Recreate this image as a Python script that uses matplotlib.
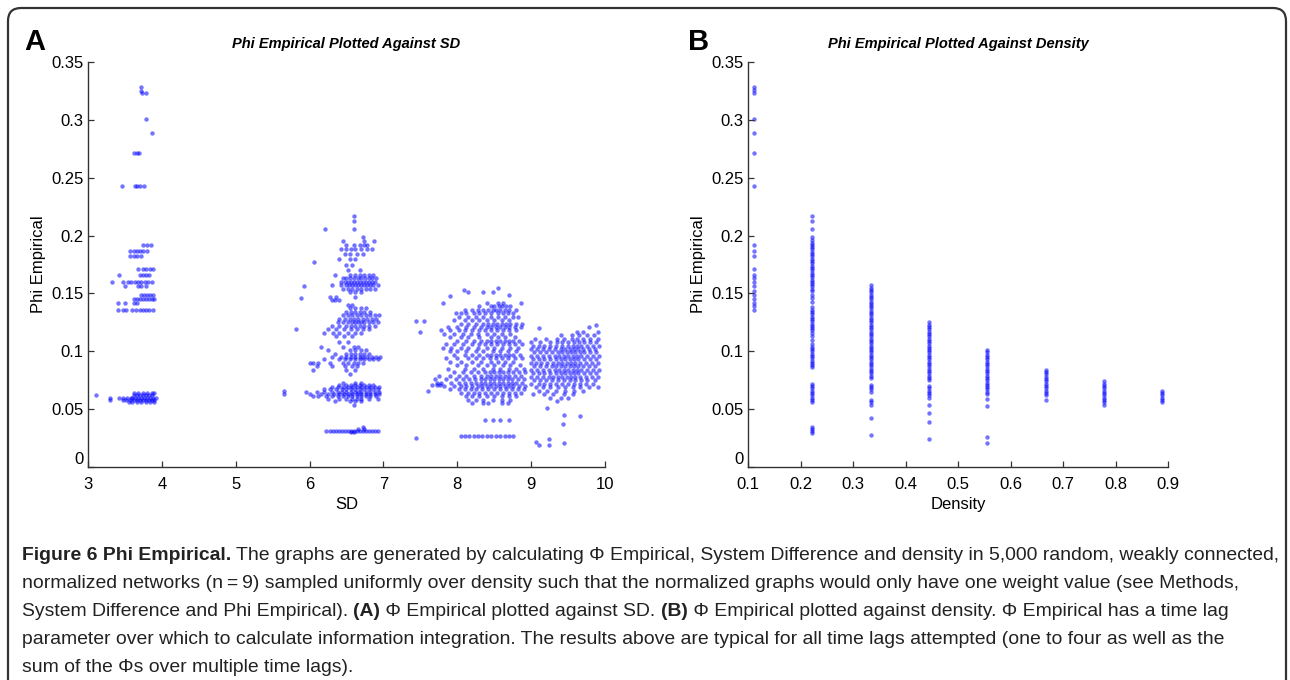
import numpy as np
import matplotlib
matplotlib.use('Agg')
import matplotlib.pyplot as plt
from matplotlib.patches import FancyBboxPatch

plt.rcParams['font.family'] = ['Liberation Sans Narrow', 'Liberation Sans', 'DejaVu Sans']

# ---------------- data ----------------
# panel A : rows of points, phi value -> list of SD values
sd_group1 = {
    0.328: [3.72], 0.325: [3.72], 0.323: [3.73, 3.78], 0.301: [3.79], 0.289: [3.87],
    0.271: [3.62, 3.66, 3.69], 0.243: [3.46, 3.64, 3.67, 3.70, 3.76],
    0.192: [3.75, 3.80, 3.85], 0.187: [3.57, 3.62, 3.66, 3.70, 3.75, 3.80],
    0.182: [3.57, 3.62, 3.67, 3.72], 0.171: [3.68, 3.74, 3.78, 3.84, 3.88],
    0.166: [3.42, 3.70, 3.75, 3.79, 3.83],
    0.160: [3.33, 3.48, 3.54, 3.58, 3.63, 3.68, 3.72, 3.77, 3.81, 3.86],
    0.156: [3.50, 3.68, 3.72, 3.78], 0.149: [3.72, 3.76, 3.80, 3.84, 3.88],
    0.145: [3.62, 3.66, 3.70, 3.74, 3.78, 3.82, 3.86, 3.90], 0.142: [3.40, 3.50, 3.62, 3.67],
    0.136: [3.40, 3.48, 3.52, 3.60, 3.65, 3.70, 3.74, 3.78, 3.83, 3.88],
    0.064: [3.62, 3.68, 3.74, 3.80, 3.86, 3.90],
    0.062: [3.11, 3.62, 3.66, 3.70, 3.74, 3.78, 3.82, 3.86],
    0.060: [3.30, 3.42, 3.48, 3.53, 3.58, 3.60, 3.64, 3.68, 3.72, 3.76, 3.80, 3.84, 3.88, 3.92],
    0.058: [3.30, 3.47, 3.52, 3.57, 3.62, 3.66, 3.70, 3.74, 3.78, 3.82, 3.86, 3.90],
    0.056: [3.55, 3.60, 3.66, 3.72, 3.78, 3.84, 3.90],
}

sd_group2 = {
    0.217: [6.60], 0.213: [6.60], 0.206: [6.21, 6.60], 0.199: [6.72],
    0.195: [6.45, 6.74, 6.87], 0.192: [6.50, 6.60, 6.68, 6.74, 6.78],
    0.188: [6.42, 6.50, 6.56, 6.62, 6.70, 6.78, 6.85], 0.184: [6.48, 6.55, 6.64, 6.72],
    0.180: [6.40, 6.55, 6.62], 0.177: [6.06], 0.175: [6.50, 6.58], 0.170: [6.52, 6.68],
    0.166: [6.34, 6.55, 6.62, 6.68, 6.74, 6.80, 6.86],
    0.163: [6.45, 6.50, 6.55, 6.60, 6.65, 6.70, 6.75, 6.80, 6.85, 6.90],
    0.160: [6.43, 6.48, 6.52, 6.56, 6.60, 6.64, 6.68, 6.72, 6.76, 6.80, 6.84, 6.88],
    0.157: [6.30, 6.42, 6.50, 6.54, 6.58, 6.62, 6.66, 6.70, 6.74, 6.78, 6.82, 6.86, 6.92],
    0.156: [5.93],
    0.154: [6.45, 6.52, 6.58, 6.64, 6.70, 6.76, 6.82, 6.88], 0.151: [6.55, 6.62, 6.70],
    0.147: [6.28, 6.36, 6.62], 0.146: [5.88], 0.144: [6.30, 6.34, 6.40], 0.140: [6.52, 6.58],
    0.137: [6.55, 6.62, 6.70, 6.76], 0.134: [6.50, 6.56, 6.62, 6.68, 6.74, 6.82],
    0.131: [6.45, 6.52, 6.58, 6.64, 6.70, 6.76, 6.82, 6.88, 6.94],
    0.128: [6.40, 6.48, 6.55, 6.60, 6.66, 6.72, 6.78, 6.84, 6.90],
    0.125: [6.38, 6.45, 6.52, 6.58, 6.62, 6.66, 6.70, 6.74, 6.80, 6.86, 6.92],
    0.122: [6.30, 6.40, 6.50, 6.56, 6.62, 6.68, 6.74, 6.80, 6.88],
    0.119: [5.82, 6.25, 6.36, 6.46, 6.56, 6.64, 6.72, 6.80],
    0.116: [6.20, 6.32, 6.40, 6.52, 6.62, 6.70], 0.113: [6.36, 6.46, 6.58], 0.108: [6.40, 6.52],
    0.104: [6.15, 6.45, 6.60, 6.66], 0.101: [6.25, 6.55, 6.62, 6.70, 6.76],
    0.098: [6.35, 6.50, 6.56, 6.62, 6.68, 6.74, 6.80],
    0.095: [6.30, 6.42, 6.50, 6.56, 6.62, 6.68, 6.72, 6.78, 6.84, 6.90, 6.95],
    0.093: [6.20, 6.40, 6.48, 6.55, 6.62, 6.68, 6.74, 6.80, 6.86, 6.92],
    0.090: [6.00, 6.05, 6.12, 6.28, 6.45, 6.52, 6.60, 6.66, 6.72],
    0.087: [6.10, 6.30, 6.48, 6.58, 6.64], 0.084: [6.05, 6.50, 6.62], 0.080: [6.55],
    0.073: [6.45, 6.62, 6.70],
    0.071: [6.40, 6.50, 6.56, 6.62, 6.68, 6.74, 6.80, 6.86],
    0.069: [6.30, 6.38, 6.45, 6.52, 6.58, 6.64, 6.70, 6.76, 6.82, 6.88, 6.94],
    0.067: [6.20, 6.28, 6.36, 6.44, 6.50, 6.56, 6.62, 6.68, 6.74, 6.80, 6.86, 6.92],
    0.066: [5.66],
    0.065: [5.95, 6.10, 6.20, 6.30, 6.38, 6.44, 6.50, 6.56, 6.62, 6.66, 6.70, 6.76, 6.82, 6.88, 6.94],
    0.063: [5.66, 6.00, 6.15, 6.25, 6.33, 6.40, 6.46, 6.52, 6.58, 6.64, 6.70, 6.76, 6.82, 6.88, 6.94],
    0.061: [6.05, 6.12, 6.22, 6.30, 6.38, 6.45, 6.52, 6.58, 6.64, 6.70, 6.76, 6.82, 6.90],
    0.059: [6.25, 6.40, 6.50, 6.58, 6.64, 6.70, 6.80, 6.92], 0.057: [6.35, 6.55, 6.62, 6.70],
    0.054: [6.60], 0.035: [6.72], 0.033: [6.66, 6.74],
    0.031: [6.22, 6.27, 6.32, 6.36, 6.40, 6.44, 6.48, 6.52, 6.56, 6.60, 6.64, 6.68, 6.72,
            6.76, 6.80, 6.84, 6.88, 6.92],
    0.030: [6.56, 6.60],
}

sd_group3 = {
    0.155: [8.55], 0.153: [8.09], 0.151: [8.15, 8.35, 8.48], 0.149: [8.70], 0.148: [7.90],
    0.142: [7.80, 8.40, 8.55, 8.62, 8.86],
    0.139: [8.30, 8.45, 8.50, 8.56, 8.60, 8.66, 8.72],
    0.136: [8.10, 8.20, 8.28, 8.35, 8.42, 8.48, 8.52, 8.58, 8.64, 8.70, 8.80],
    0.133: [7.98, 8.05, 8.12, 8.22, 8.30, 8.38, 8.46, 8.55, 8.62, 8.68, 8.76],
    0.130: [8.02, 8.15, 8.25, 8.35, 8.45, 8.55, 8.65, 8.75, 8.82],
    0.127: [7.95, 8.10, 8.20, 8.30, 8.40, 8.50, 8.60, 8.70],
    0.126: [7.44, 7.55],
    0.124: [8.05, 8.15, 8.25, 8.35, 8.42, 8.48, 8.54, 8.60, 8.66, 8.72, 8.80, 8.88],
    0.121: [7.88, 8.00, 8.12, 8.22, 8.32, 8.40, 8.46, 8.52, 8.58, 8.64, 8.70, 8.78, 8.86],
    0.118: [7.78, 7.90, 8.02, 8.10, 8.20, 8.30, 8.38, 8.46, 8.54, 8.62, 8.70, 8.80],
    0.117: [7.50],
    0.115: [7.82, 7.95, 8.08, 8.18, 8.28, 8.40, 8.50, 8.60, 8.72],
    0.112: [7.90, 8.05, 8.15, 8.30, 8.45, 8.55, 8.65, 8.78],
    0.109: [8.00, 8.12, 8.22, 8.32, 8.40, 8.46, 8.52, 8.58, 8.64, 8.70, 8.76, 8.84],
    0.106: [7.85, 7.96, 8.08, 8.20, 8.30, 8.38, 8.46, 8.54, 8.62, 8.70, 8.78, 8.88],
    0.103: [7.80, 7.92, 8.05, 8.15, 8.28, 8.40, 8.50, 8.60, 8.72, 8.82],
    0.100: [7.90, 8.00, 8.12, 8.25, 8.35, 8.48, 8.58, 8.68, 8.80],
    0.097: [7.95, 8.10, 8.20, 8.30, 8.40, 8.46, 8.52, 8.58, 8.64, 8.70, 8.76, 8.85],
    0.094: [7.85, 8.00, 8.15, 8.25, 8.35, 8.44, 8.52, 8.60, 8.68, 8.78, 8.88],
    0.091: [7.90, 8.05, 8.20, 8.32, 8.45, 8.55, 8.65, 8.75],
    0.088: [8.00, 8.12, 8.28, 8.40, 8.50, 8.62, 8.72, 8.85],
    0.085: [7.88, 8.10, 8.22, 8.35, 8.48, 8.58, 8.70, 8.80, 8.90],
    0.082: [7.95, 8.08, 8.18, 8.28, 8.38, 8.44, 8.50, 8.56, 8.62, 8.68, 8.76, 8.84, 8.92],
    0.079: [7.75, 7.90, 8.02, 8.12, 8.22, 8.32, 8.40, 8.46, 8.52, 8.58, 8.64, 8.70, 8.78, 8.86],
    0.076: [7.70, 7.85, 7.98, 8.08, 8.16, 8.24, 8.32, 8.38, 8.44, 8.50, 8.56, 8.62, 8.68,
            8.74, 8.82, 8.90],
    0.073: [7.72, 7.78, 7.92, 8.02, 8.10, 8.18, 8.26, 8.32, 8.38, 8.44, 8.50, 8.56, 8.62,
            8.68, 8.74, 8.80, 8.88],
    0.071: [7.66, 7.72, 7.76],
    0.070: [7.82, 7.95, 8.05, 8.12, 8.20, 8.28, 8.34, 8.40, 8.46, 8.52, 8.58, 8.64, 8.70,
            8.76, 8.84, 8.92],
    0.067: [7.90, 8.02, 8.10, 8.18, 8.26, 8.34, 8.42, 8.50, 8.58, 8.66, 8.74, 8.82, 8.90],
    0.066: [7.61],
    0.064: [8.05, 8.14, 8.22, 8.30, 8.38, 8.46, 8.54, 8.62, 8.70, 8.78, 8.86],
    0.061: [8.12, 8.20, 8.30, 8.40, 8.50, 8.60, 8.70, 8.80],
    0.058: [8.15, 8.25, 8.35, 8.48, 8.60, 8.72],
    0.055: [8.20, 8.35, 8.42, 8.60, 8.68],
    0.041: [8.38, 8.48, 8.58, 8.70],
    0.027: [8.05, 8.10, 8.16, 8.22, 8.28, 8.34, 8.40, 8.46, 8.52, 8.58, 8.64, 8.70, 8.76],
    0.025: [7.44],
}

sd_group4 = {
    0.123: [9.88], 0.121: [9.78], 0.120: [9.10], 0.117: [9.62, 9.70, 9.90],
    0.114: [9.40, 9.55, 9.65, 9.75, 9.85],
    0.111: [9.05, 9.20, 9.35, 9.45, 9.55, 9.62, 9.70, 9.80, 9.90],
    0.108: [9.00, 9.12, 9.25, 9.35, 9.42, 9.50, 9.58, 9.65, 9.72, 9.80, 9.88],
    0.105: [9.02, 9.10, 9.18, 9.26, 9.34, 9.42, 9.50, 9.56, 9.62, 9.68, 9.76, 9.84, 9.92],
    0.102: [9.00, 9.08, 9.16, 9.24, 9.32, 9.40, 9.46, 9.52, 9.58, 9.64, 9.70, 9.78, 9.86],
    0.099: [9.04, 9.12, 9.20, 9.28, 9.36, 9.42, 9.48, 9.54, 9.60, 9.66, 9.72, 9.80, 9.88],
    0.096: [9.00, 9.08, 9.16, 9.24, 9.32, 9.38, 9.44, 9.50, 9.56, 9.62, 9.68, 9.76, 9.84, 9.92],
    0.093: [9.02, 9.10, 9.18, 9.26, 9.34, 9.40, 9.46, 9.52, 9.58, 9.64, 9.72, 9.80, 9.88],
    0.090: [9.00, 9.06, 9.14, 9.22, 9.30, 9.36, 9.42, 9.48, 9.54, 9.60, 9.66, 9.74, 9.82, 9.90],
    0.087: [9.04, 9.12, 9.20, 9.28, 9.34, 9.40, 9.46, 9.52, 9.58, 9.64, 9.70, 9.78, 9.86],
    0.084: [9.00, 9.08, 9.16, 9.24, 9.32, 9.38, 9.44, 9.50, 9.56, 9.62, 9.68, 9.76, 9.84, 9.92],
    0.081: [9.02, 9.10, 9.18, 9.26, 9.34, 9.40, 9.46, 9.52, 9.58, 9.64, 9.72, 9.80, 9.88],
    0.078: [9.00, 9.08, 9.16, 9.24, 9.30, 9.36, 9.42, 9.48, 9.54, 9.60, 9.66, 9.74, 9.82, 9.90],
    0.075: [9.04, 9.12, 9.20, 9.28, 9.36, 9.44, 9.52, 9.60, 9.68, 9.76, 9.86],
    0.072: [9.00, 9.10, 9.18, 9.26, 9.34, 9.42, 9.50, 9.58, 9.66, 9.74, 9.84],
    0.069: [9.06, 9.16, 9.26, 9.36, 9.46, 9.56, 9.66, 9.78, 9.90],
    0.066: [9.10, 9.22, 9.34, 9.46, 9.58, 9.70],
    0.063: [9.02, 9.18, 9.30, 9.44, 9.56],
    0.060: [9.25, 9.40, 9.50], 0.057: [9.35],
    0.051: [9.21], 0.045: [9.44], 0.044: [9.66], 0.037: [9.43], 0.024: [9.24],
    0.022: [9.07], 0.021: [9.44], 0.019: [9.10, 9.24],
}

# panel B : density columns and their phi values
density = [1/9, 2/9, 3/9, 4/9, 5/9, 6/9, 7/9, 8/9]
phi_d1 = [0.328, 0.326, 0.323, 0.301, 0.289, 0.271, 0.243, 0.192, 0.187, 0.182, 0.171,
          0.166, 0.163, 0.160, 0.156, 0.152, 0.149, 0.145, 0.142, 0.139, 0.136]
phi_d2 = [0.217, 0.213, 0.206, 0.199, 0.196, 0.194, 0.192, 0.190, 0.188, 0.186, 0.184,
          0.182, 0.180, 0.178, 0.176, 0.174, 0.172, 0.170, 0.168, 0.166, 0.164, 0.162,
          0.160, 0.158, 0.156, 0.154, 0.152, 0.149, 0.146, 0.143, 0.138, 0.136, 0.134,
          0.132, 0.130, 0.128, 0.126, 0.124, 0.122, 0.120, 0.118, 0.116, 0.113, 0.110,
          0.106, 0.104, 0.102, 0.100, 0.098, 0.096, 0.094, 0.092, 0.090, 0.088, 0.086,
          0.072, 0.070, 0.068, 0.066, 0.064, 0.062, 0.060, 0.058, 0.056,
          0.035, 0.033, 0.031, 0.029]
phi_d3 = [0.157, 0.155, 0.153, 0.151, 0.149, 0.147, 0.145, 0.143, 0.141, 0.139, 0.137,
          0.135, 0.133, 0.131, 0.129, 0.127, 0.125, 0.123, 0.121, 0.119, 0.117, 0.115,
          0.113, 0.111, 0.109, 0.107, 0.105, 0.103, 0.101, 0.099, 0.097, 0.095, 0.093,
          0.091, 0.089, 0.087, 0.085, 0.083, 0.081, 0.079, 0.077,
          0.071, 0.069, 0.067, 0.065, 0.058, 0.056, 0.054, 0.042, 0.028]
phi_d4 = [0.125, 0.123, 0.121, 0.119, 0.117, 0.115, 0.113, 0.111, 0.109, 0.107, 0.105,
          0.103, 0.101, 0.099, 0.097, 0.095, 0.093, 0.091, 0.089, 0.087, 0.085, 0.083,
          0.081, 0.079, 0.077, 0.075, 0.070, 0.068, 0.066, 0.064, 0.062, 0.060,
          0.054, 0.047, 0.039, 0.024]
phi_d5 = [0.101, 0.099, 0.097, 0.095, 0.093, 0.091, 0.089, 0.087, 0.085, 0.083, 0.081,
          0.079, 0.077, 0.075, 0.073, 0.071, 0.069, 0.067, 0.065, 0.063, 0.059, 0.053,
          0.026, 0.021]
phi_d6 = [0.084, 0.082, 0.080, 0.078, 0.076, 0.074, 0.072, 0.070, 0.068, 0.066, 0.064,
          0.062, 0.058]
phi_d7 = [0.074, 0.072, 0.070, 0.068, 0.066, 0.064, 0.062, 0.060, 0.058, 0.056, 0.054]
phi_d8 = [0.066, 0.064, 0.062, 0.060, 0.058, 0.056]

y_ticks = [0, 0.05, 0.1, 0.15, 0.2, 0.25, 0.3, 0.35]
y_ticklabels = ['0', '0.05', '0.1', '0.15', '0.2', '0.25', '0.3', '0.35']
sd_ticks = [3, 4, 5, 6, 7, 8, 9, 10]
dens_ticks = [0.1, 0.2, 0.3, 0.4, 0.5, 0.6, 0.7, 0.8, 0.9]
dens_ticklabels = ['0.1', '0.2', '0.3', '0.4', '0.5', '0.6', '0.7', '0.8', '0.9']

caption_lines = [
    [('Figure 6 Phi Empirical.', 'bold'),
     (' The graphs are generated by calculating \u03a6 Empirical, System Difference and density in 5,000 random, weakly connected,', 'normal')],
    [('normalized networks (n\u2009=\u20099) sampled uniformly over density such that the normalized graphs would only have one weight value (see Methods,', 'normal')],
    [('System Difference and Phi Empirical). ', 'normal'), ('(A)', 'bold'),
     (' \u03a6 Empirical plotted against SD. ', 'normal'), ('(B)', 'bold'),
     (' \u03a6 Empirical plotted against density. \u03a6 Empirical has a time lag', 'normal')],
    [('parameter over which to calculate information integration. The results above are typical for all time lags attempted (one to four as well as the', 'normal')],
    [('sum of the \u03a6s over multiple time lags).', 'normal')],
]

# ---------------- figure ----------------
W, H = 1290, 680
fig = plt.figure(figsize=(W / 100, H / 100), dpi=100)

frame = FancyBboxPatch((0.08, -0.3), 12.78, 7.02, boxstyle='round,pad=0,rounding_size=0.13',
                       transform=fig.dpi_scale_trans, facecolor='none', edgecolor='#333333',
                       linewidth=1.6)
fig.patches.append(frame)

dot_color = '#0000ff'
axis_col = '#333333'


def style_axes(ax):
    for s in ['top', 'right']:
        ax.spines[s].set_visible(False)
    for s in ['left', 'bottom']:
        ax.spines[s].set_color(axis_col)
        ax.spines[s].set_linewidth(1.0)
    ax.tick_params(direction='in', length=4, width=0.9, color=axis_col, labelsize=12, pad=3)
    ax.tick_params(axis='x', pad=7)
    ax.set_ylim(0, 0.35)
    ax.set_yticks(y_ticks)
    ax.set_yticklabels(y_ticklabels)
    ax.get_yticklabels()[0].set_va('bottom')


def px_axes(left, top, right, bottom):
    return fig.add_axes([left / W, 1 - bottom / H, (right - left) / W, (bottom - top) / H])


# panel A
axA = px_axes(88, 62, 605, 467)
for grp in [sd_group1, sd_group2, sd_group3, sd_group4]:
    for phi, xs in grp.items():
        axA.scatter(xs, [phi] * len(xs), s=10, color=dot_color, alpha=0.55, linewidths=0)
axA.set_xlim(3, 10)
axA.set_xticks(sd_ticks)
style_axes(axA)
axA.set_xlabel('SD', fontsize=12, labelpad=4)
axA.set_ylabel('Phi Empirical', fontsize=12, labelpad=4)
axA.set_title('Phi Empirical Plotted Against SD', fontsize=10.5, fontweight='bold',
              style='italic', pad=10)

# panel B
axB = px_axes(748, 62, 1168, 467)
cols = [phi_d1, phi_d2, phi_d3, phi_d4, phi_d5, phi_d6, phi_d7, phi_d8]
for d, ys in zip(density, cols):
    axB.scatter([d] * len(ys), ys, s=10, color=dot_color, alpha=0.55, linewidths=0)
axB.set_xlim(0.1, 0.9)
axB.set_xticks(dens_ticks)
axB.set_xticklabels(dens_ticklabels)
style_axes(axB)
axB.set_xlabel('Density', fontsize=12, labelpad=4)
axB.set_ylabel('Phi Empirical', fontsize=12, labelpad=4)
axB.set_title('Phi Empirical Plotted Against Density', fontsize=10.5, fontweight='bold',
              style='italic', pad=10)

fig.text(24 / W, 1 - 42 / H, 'A', fontsize=21, fontweight='bold', va='center', ha='left',
         family=['Liberation Sans', 'DejaVu Sans'])
fig.text(688 / W, 1 - 42 / H, 'B', fontsize=21, fontweight='bold', va='center', ha='left',
         family=['Liberation Sans', 'DejaVu Sans'])

# caption, fitted so that the first line spans the box
renderer = fig.canvas.get_renderer()
cap_size = 14
x0 = 22
line_y = [556, 584, 612, 640, 667]


def draw_line(parts, y, size, draw=True):
    x = x0
    objs = []
    for txt, weight in parts:
        t = fig.text(x / W, 1 - y / H, txt, fontsize=size, fontweight=weight, va='center',
                     ha='left', color='#222222')
        bb = t.get_window_extent(renderer)
        x = bb.x1
        objs.append(t)
    if not draw:
        for t in objs:
            t.remove()
    return x - x0


w1 = draw_line(caption_lines[0], line_y[0], cap_size, draw=False)
cap_size = cap_size * (1262 / w1)
for parts, y in zip(caption_lines, line_y):
    draw_line(parts, y, cap_size)

fig.savefig('out.png', dpi=100)
